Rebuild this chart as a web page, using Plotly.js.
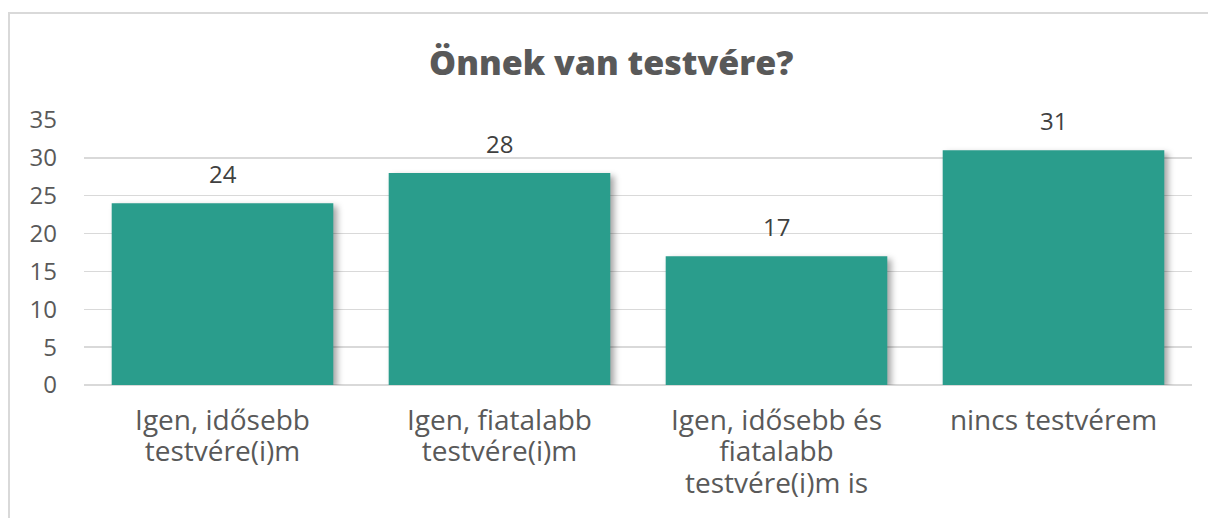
<!DOCTYPE html>
<html>
<head>
<meta charset="utf-8">
<script src="https://cdn.plot.ly/plotly-3.0.1.min.js"></script>
<style>
  html, body { margin: 0; padding: 0; background: #fff; }
  #wrap { position: relative; width: 1208px; height: 518px; }
  #chart { width: 1208px; height: 518px; }
  #frame { position: absolute; left: 8px; top: 12px; right: -10px; bottom: -10px;
           border-top: 2px solid #d9d9d9; border-left: 2px solid #d9d9d9; pointer-events: none; }
  .trace.bars .point path { filter: drop-shadow(4px 3px 3px rgba(0,0,0,0.35)); }
</style>
</head>
<body>
<div id="wrap">
  <div id="chart"></div>
  <div id="frame"></div>
</div>
<script>
const categories = [
  "Igen, idősebb<br>testvére(i)m",
  "Igen, fiatalabb<br>testvére(i)m",
  "Igen, idősebb és<br>fiatalabb<br>testvére(i)m is",
  "nincs testvérem"
];
const values = [24, 28, 17, 31];
const titleText = "Önnek van testvére?";
const yTicks = [0, 5, 10, 15, 20, 25, 30, 35];

const baseFamily = "'Open Sans', 'Noto Sans', sans-serif";

const trace = {
  type: "bar",
  x: categories,
  y: values,
  marker: { color: "#2a9d8c" },
  hoverinfo: "none"
};

const annotations = categories.map((c, i) => ({
  x: c, y: values[i], xref: "x", yref: "y",
  text: String(values[i]), showarrow: false,
  yanchor: "bottom", yshift: 11,
  font: { family: baseFamily, size: 24, color: "#404040" }
}));

const layout = {
  width: 1208, height: 518,
  margin: { l: 84, r: 16, t: 120, b: 133 },
  paper_bgcolor: "#ffffff",
  plot_bgcolor: "#ffffff",
  bargap: 0.2,
  showlegend: false,
  title: {
    text: titleText,
    x: 0.506, xanchor: "center",
    y: 1 - 63 / 518, yref: "container", yanchor: "middle",
    font: { family: "'Open Sans', Inter, sans-serif", size: 34, weight: 800, color: "#595959" }
  },
  xaxis: {
    tickfont: { family: baseFamily, size: 28, color: "#595959" },
    showgrid: false, showline: false, ticks: "",
    ticklabelstandoff: 16
  },
  yaxis: {
    range: [0, 35],
    tickvals: yTicks,
    ticktext: yTicks.map(String),
    tickfont: { family: baseFamily, size: 24, color: "#595959" },
    showgrid: true, gridcolor: "#d9d9d9", gridwidth: 1.5,
    zeroline: true, zerolinecolor: "#d9d9d9", zerolinewidth: 1.5,
    showline: false, ticks: "",
    ticklabelstandoff: 26
  },
  annotations: annotations
};

Plotly.newPlot("chart", [trace], layout, { staticPlot: true, displayModeBar: false }).then(gd => {
  // tighten the line spacing of the multi-line category labels
  gd.querySelectorAll(".xtick text tspan.line").forEach(t => {
    const dy = t.getAttribute("dy");
    if (dy && dy.endsWith("em")) {
      const v = parseFloat(dy);
      if (v) t.setAttribute("dy", (v * 1.12 / 1.3).toFixed(3) + "em");
    }
  });
});
</script>
</body>
</html>
